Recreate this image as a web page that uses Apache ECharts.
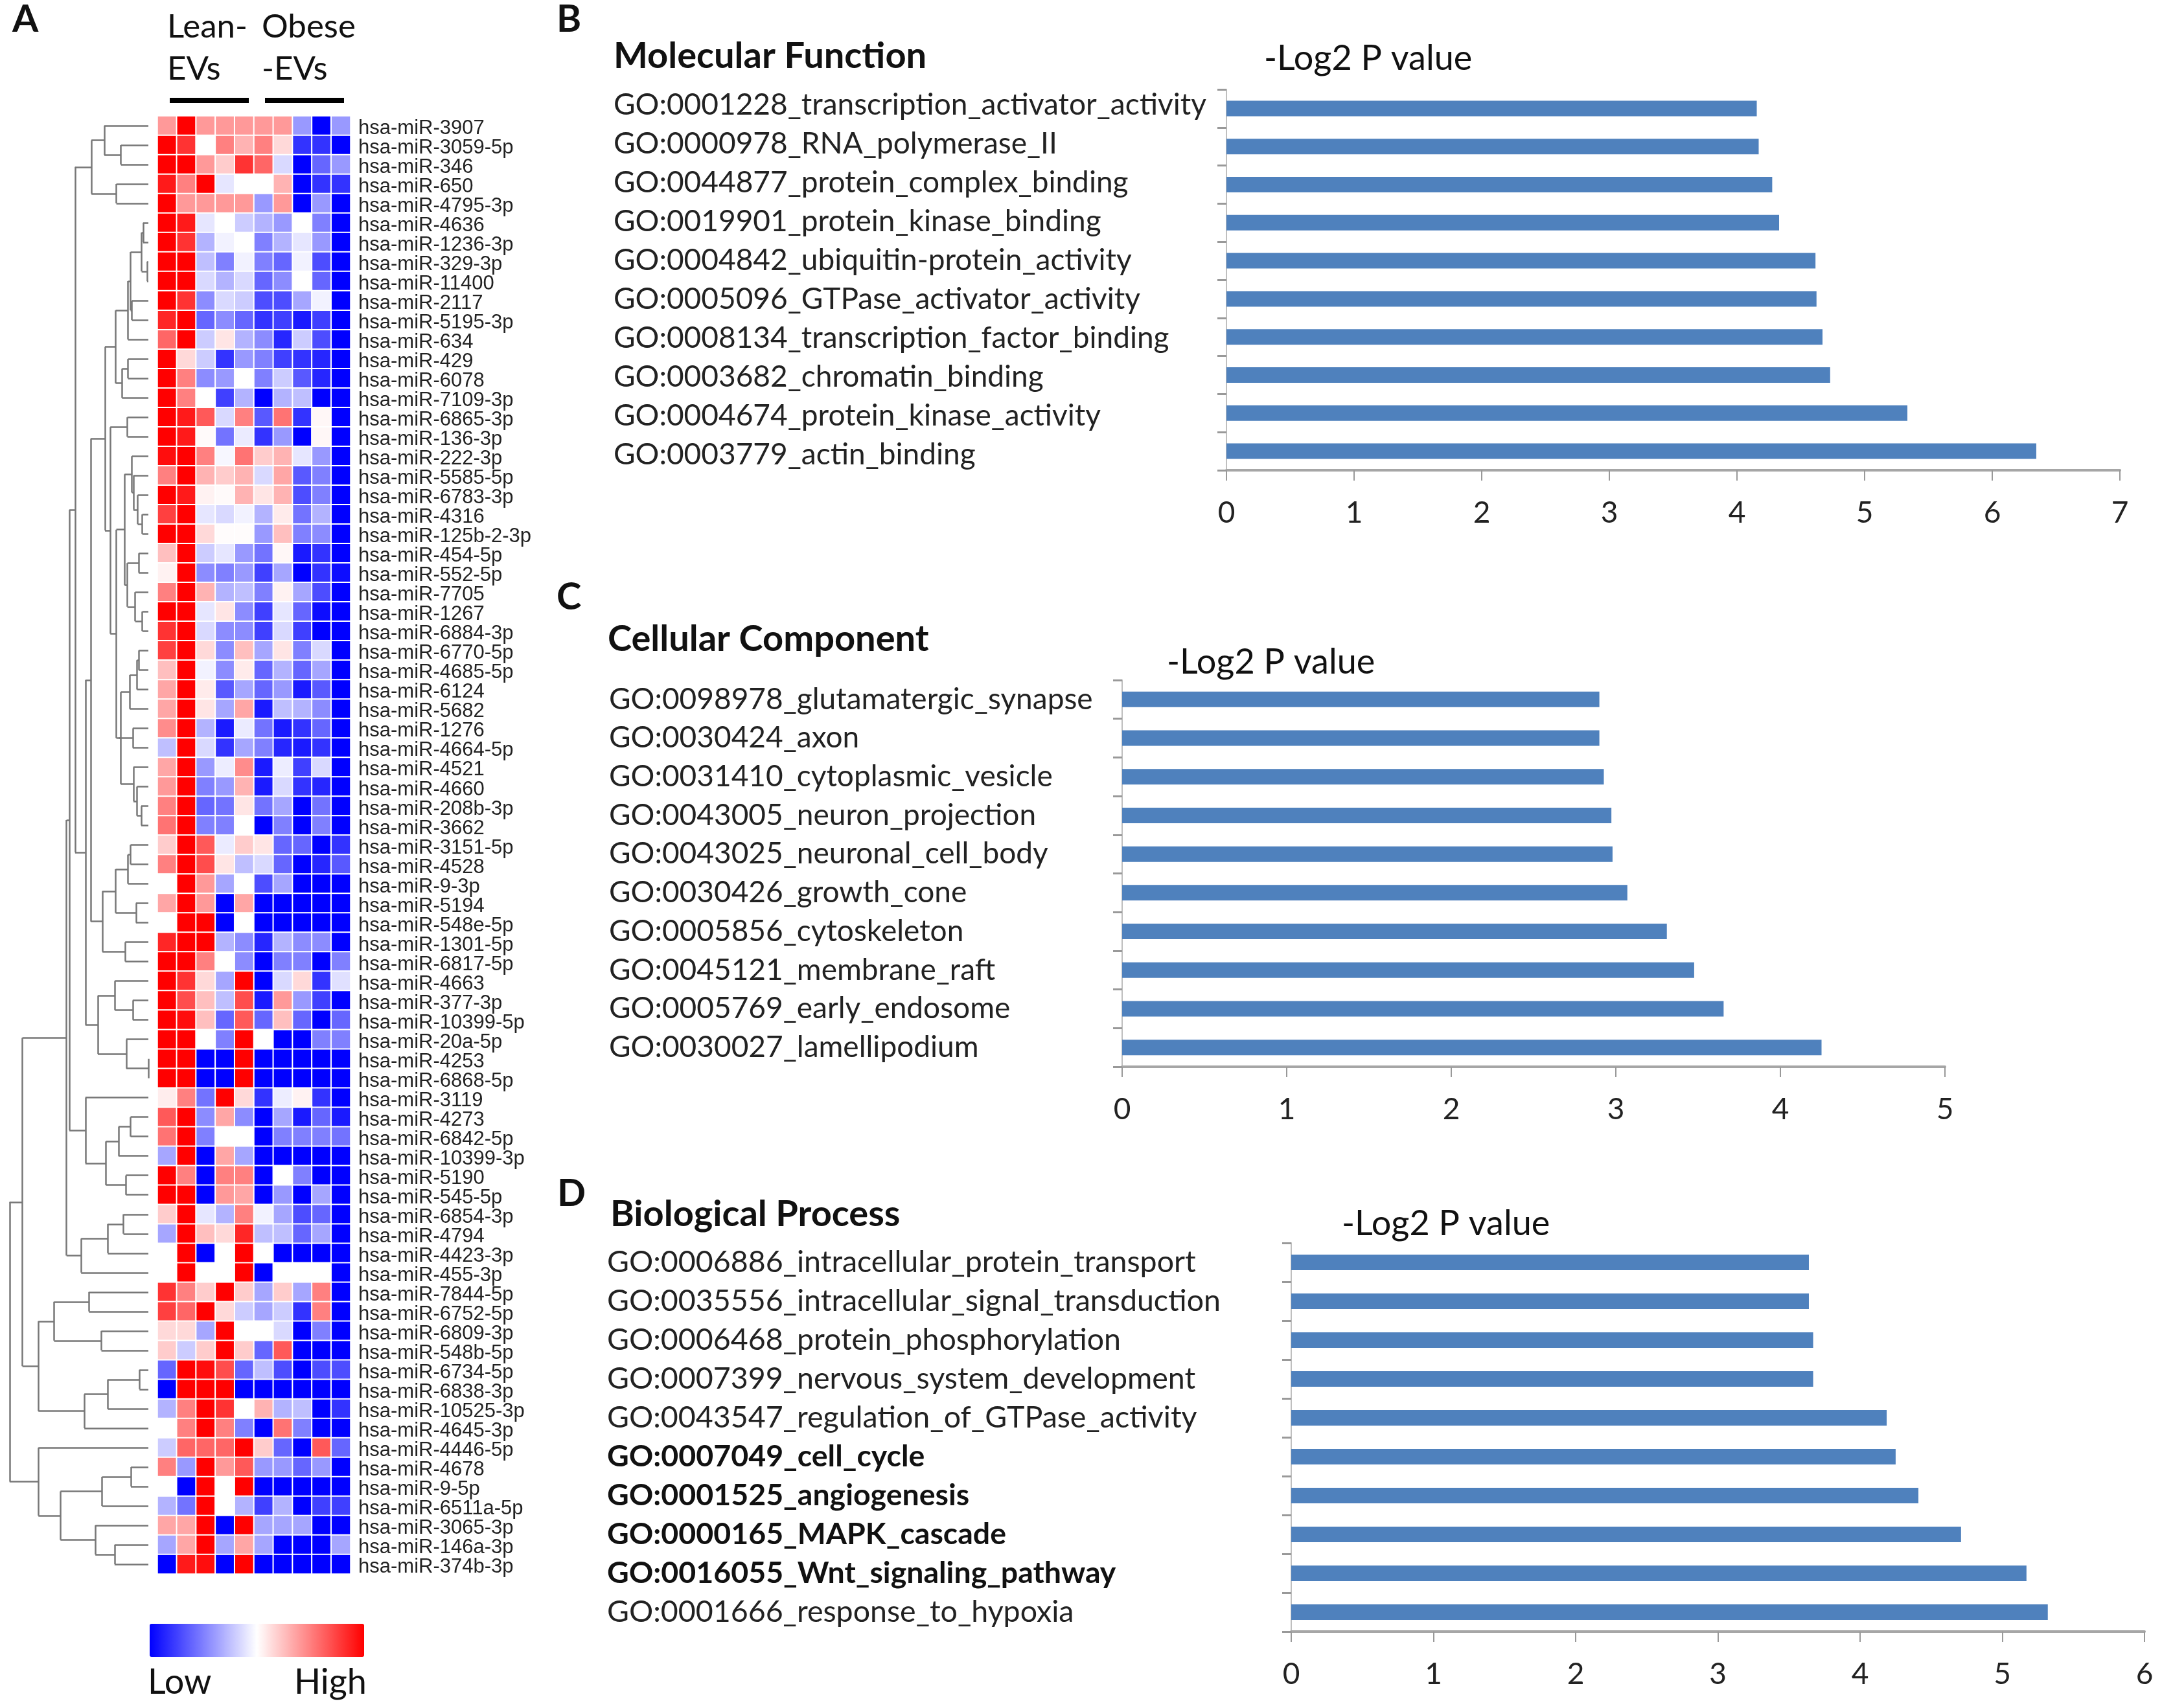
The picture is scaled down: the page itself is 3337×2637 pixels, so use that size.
<!DOCTYPE html>
<html>
<head>
<meta charset="utf-8">
<title>miRNA heatmap and GO enrichment</title>
<script src="https://cdn.jsdelivr.net/npm/echarts@6/dist/echarts.min.js"></script>
<style>
  html, body { margin: 0; padding: 0; background: #fff; }
  #chart { width: 3337px; height: 2637px; }
</style>
</head>
<body>
<div id="chart"></div>
<script>
const mirnaNames = [
  '3907','3059-5p','346','650','4795-3p','4636','1236-3p','329-3p','11400','2117','5195-3p','634','429','6078','7109-3p',
  '6865-3p','136-3p','222-3p','5585-5p','6783-3p','4316','125b-2-3p','454-5p','552-5p','7705','1267','6884-3p','6770-5p','4685-5p','6124',
  '5682','1276','4664-5p','4521','4660','208b-3p','3662','3151-5p','4528','9-3p','5194','548e-5p','1301-5p','6817-5p','4663',
  '377-3p','10399-5p','20a-5p','4253','6868-5p','3119','4273','6842-5p','10399-3p','5190','545-5p','6854-3p','4794','4423-3p','455-3p',
  '7844-5p','6752-5p','6809-3p','548b-5p','6734-5p','6838-3p','10525-3p','4645-3p','4446-5p','4678','9-5p','6511a-5p','3065-3p','146a-3p','374b-3p'
].map(n => 'hsa-miR-' + n);

// expression per miRNA, -10 (low) to 10 (high), ten samples
const expression = [
  [4,10,4,4,4,4,4,-4,-10,-4],
  [10,8,0,5,3,5,1.5,-8,-8,-10],
  [10,10,4,2,8,6,-1.5,-10,-6,-4],
  [9,5,10,-1,0,0,3,-10,-8,-8],
  [10,4,4,4,4,-4,4,-10,-4,-10],
  [10,9,-1,0,-2,-3,-4,0,-5,-10],
  [10,8,-3,-.5,0,-5,-3,-1,-4,-10],
  [10,10,-2.5,-5,-.5,-5,-6,-.5,-7,-10],
  [10,10,-1.5,-3,-1.5,-6,-4.5,0,-6,-10],
  [10,8,-4.5,-1.5,-2,-7,-7,-3.5,-.5,-10],
  [8.5,10,-6,-4.5,-6,-8,-7.5,-9,-7.5,-10],
  [6,10,-2,1,-3,-4.5,-8.5,-2,-7,-10],
  [10,1.5,-2,-8,-4,-5,-7.5,-8,-8.5,-10],
  [10,5,-4.5,-4,0,-5,-2,-6.5,-8.5,-10],
  [10,5,0,-7.5,-3,-10,-3,-2.5,-10,-10],
  [10,9,6.5,-1.5,5,-6.5,5.5,-8,.3,-10],
  [10,9,.2,-5.5,-.8,-8,-4,-10,.3,-10],
  [9.5,10,5,-.3,5.5,2,3,-1,-4,-10],
  [5,10,3,2,3,-1.5,3.5,-6.5,-5,-10],
  [10,9,.5,.2,3,1,3,-7,-5,-10],
  [7.5,10,-1,-1.5,-.5,-3,.8,-5.5,-3,-10],
  [10,10,1.5,.1,.1,-4,2.5,-5,-4.5,-10],
  [2.5,10,-2,-1,-4,-5.5,.3,-9,-8,-10],
  [.5,10,-4.5,-5,-4,-7.5,-3.5,-10,-8,-9.5],
  [5,10,3,-3,-2.5,-5,.5,-3.5,-7,-10],
  [10,10,-1,1,-4.5,-7.5,-1,-6,-9.5,-10],
  [8,10,-1.5,-4.5,-4.5,-7.5,-1.5,-7.5,-10,-10],
  [7.5,10,1.5,-4.5,2.5,-3.5,1,-5,-1.5,-10],
  [2.5,10,-.5,-4.5,.8,-6,-3,-6,-3.5,-10],
  [3.5,10,.8,-6.5,-3.5,-6,-4,-9,-6.5,-10],
  [3.5,10,1,-3.5,3.5,-9,-2.5,-3,-4.5,-10],
  [4.5,10,-3,-9,-.8,-5.5,-9,-8,-6,-10],
  [-2.5,10,-1.5,-8,-3.5,-5,-8.5,-9,-8,-10],
  [3.5,10,-4,-.7,4.5,-9,-.7,-7.5,-1.5,-10],
  [4,10,-5,-4,3,-9,-1.5,-8,-8.5,-10],
  [5,10,-6,-5.5,1,-5.5,-3.5,-10,-5.5,-10],
  [5.5,10,-5,-5,0,-10,-5,-10,-5,-10],
  [2,10,6.5,-.8,2,1,-6,-6,-10,-8],
  [5,10,7,1,-2.5,-1.5,-6,-10,-8.5,-6.5],
  [0,10,4,-3.5,0,-7,-3.5,-10,-10,-10],
  [3.5,10,4,-10,3.5,-10,-10,-10,-10,-10],
  [0,10,10,-10,0,-10,-10,-10,-10,-10],
  [8.5,10,10,-3,-4.5,-8.5,-3,-4.5,-4.5,-10],
  [10,10,5,0,-4.5,-10,-5,-5,-10,-5],
  [10,8,1.5,-3.5,10,-10,-1.5,1.5,-8,-1.2],
  [10,7,2.5,-2.5,7,-9,4,-4,-7.5,-10],
  [10,9.5,2.5,-6,6.5,-6,2.5,-6,-10,-6],
  [10,10,0,-5,10,0,-10,-10,-5,-5],
  [10,10,-10,-10,10,-10,-10,-10,-10,-10],
  [10,10,-10,-10,10,-10,-10,-10,-10,-10],
  [.7,5,-5.5,10,1.5,-8,-.7,.5,-8,-10],
  [6.5,10,-4.5,3.5,-4.5,-10,-3.5,-9,-6,-9],
  [5.5,10,-5,0,0,-10,-5,-5,-5,-5.5],
  [-3.5,10,-10,3.5,-3.5,-10,-10,-10,-10,-10],
  [10,5,-10,5,5,-10,0,-5,-10,-10],
  [10,10,-10,4,3.5,-10,-4,-10,-3.5,-10],
  [2,10,-1,-3,5,-.5,-3.5,-7,-6,-10],
  [-3.5,10,2.5,1.5,8.5,-2.5,-2.5,-6,-3.5,-10],
  [0,10,-10,0,10,0,-10,-10,-10,-10],
  [0,10,0,0,10,-10,0,0,0,-10],
  [8,5,2,10,2,-3.5,2,-3.5,5,-10],
  [7.5,6,10,1.5,-2,-3.5,-2,-8,5,-10],
  [1.5,1.5,-3.5,10,0,0,-1.5,-10,-5,-10],
  [2,-2,2,10,2,-6,6.5,-10,-10,-10],
  [-6,10,9.5,7,-6,-2.5,-7,-10,-7,-7],
  [-10,10,10,10,-10,-10,-10,-10,-10,-10],
  [-3,5,10,8,0,3,-3,-2.5,-10,-8],
  [0,5,10,5,-5,-10,5.5,-5,-10,-10],
  [-2,6,6,6,10,2,-6,-10,6.5,-6],
  [5,-4,10,4,6.5,-4,-4,-6,-4,-10],
  [0,-10,10,0,10,-10,-10,-10,-10,-10],
  [-3,-5.5,10,0,-3,-7.5,-3,-10,-7.5,-7.5],
  [3.5,3.5,10,-10,10,-3.5,-3.5,-3.5,-10,-10],
  [-3.5,3.5,10,-3.5,3.5,-3.5,-10,-10,-10,-3.5],
  [-10,9,9.5,-10,10,-10,-10,-10,-10,-10]
];

// dendrogram: [merge level, child, child], a plain number is a row (1-based)
const treeTopFive = [257, [293, 1, [340, 2, 3]], [327, 4, 5]];
const treeUpper = [325, [360, [367, [398, [402, 6, 7], [413, 8, 9]], [371, 10, 11]], 12], [343, [360, 13, 14], 15]];
const treeMiddle = [310, [358, 16, 17], [327,
  [350, [371, 18, [375, 19, [387, 20, [400, 21, 22]]]], [358, [390, 23, 24], [380, 25, [400, 26, 27]]]],
  [333, [373, 32, 33], [340, [365, [385, [390, 28, 29], 30], 31], [375, 34, [385, 35, [397, 36, 37]]]]]]];
const treeLower = [288, [325, [360, [367, 38, 39], 40], [382, 41, 42]], [352, 43, 44]];
const treeRed = [275, [323, 45, [373, 46, 47]], [355, 48, [417, 49, 50]]];
const treeSmall = [240, 51, [298, [333, [367, 52, 53], 54], [354, 55, 56]]];
const treeSparse = [228, [303, [347, 57, 58], 59], 60];
const treeSecond = [108, [152, [250, 61, 62], [285, 63, 64]], [237, [303, [392, 65, 66], 67], 68]];
const treeLast = [108, 69, [170, [287, [368, 70, 71], 72], [268, 73, [322, 74, 75]]]];
const treeRoot = [27,
  [63, [187, [195, [211, treeTopFive, [240, [255, [295, treeUpper, treeMiddle], treeLower], treeRed]], treeSmall], treeSparse], treeSecond],
  treeLast];

const mfTerms = ['GO:0001228_transcription_activator_activity','GO:0000978_RNA_polymerase_II','GO:0044877_protein_complex_binding','GO:0019901_protein_kinase_binding','GO:0004842_ubiquitin-protein_activity','GO:0005096_GTPase_activator_activity','GO:0008134_transcription_factor_binding','GO:0003682_chromatin_binding','GO:0004674_protein_kinase_activity','GO:0003779_actin_binding'];
const mfValues = [4.155, 4.17, 4.276, 4.33, 4.615, 4.623, 4.67, 4.73, 5.335, 6.345];
const ccTerms = ['GO:0098978_glutamatergic_synapse','GO:0030424_axon','GO:0031410_cytoplasmic_vesicle','GO:0043005_neuron_projection','GO:0043025_neuronal_cell_body','GO:0030426_growth_cone','GO:0005856_cytoskeleton','GO:0045121_membrane_raft','GO:0005769_early_endosome','GO:0030027_lamellipodium'];
const ccValues = [2.9, 2.9, 2.927, 2.973, 2.98, 3.07, 3.31, 3.476, 3.655, 4.25];
const bpTerms = ['GO:0006886_intracellular_protein_transport','GO:0035556_intracellular_signal_transduction','GO:0006468_protein_phosphorylation','GO:0007399_nervous_system_development','GO:0043547_regulation_of_GTPase_activity','GO:0007049_cell_cycle','GO:0001525_angiogenesis','GO:0000165_MAPK_cascade','GO:0016055_Wnt_signaling_pathway','GO:0001666_response_to_hypoxia'];
const bpValues = [3.64, 3.64, 3.67, 3.67, 4.187, 4.25, 4.41, 4.71, 5.17, 5.32];
const bpBold = ['GO:0007049_cell_cycle','GO:0001525_angiogenesis','GO:0000165_MAPK_cascade','GO:0016055_Wnt_signaling_pathway'];

const FONT = 'Lato, "Open Sans", sans-serif';
const LABEL_FONT = '"Liberation Sans", Arial, sans-serif';

const heatData = [];
expression.forEach((row, r) => row.forEach((v, c) => heatData.push([c, r, v])));

// walk the tree, collect its line segments, return the y of the node
const treeLines = [];
function walkTree(node) {
  if (typeof node === 'number') return { x: 417, y: node - 0.5 };
  const a = walkTree(node[1]);
  const b = walkTree(node[2]);
  const x = node[0];
  treeLines.push({ coords: [[x, a.y], [a.x, a.y]] });
  treeLines.push({ coords: [[x, b.y], [b.x, b.y]] });
  treeLines.push({ coords: [[x, a.y], [x, b.y]] });
  return { x, y: (a.y + b.y) / 2 };
}
walkTree(treeRoot);

// one bar panel; the term labels sit on their own axis since their pitch differs from the bars in B
const panels = [
  { terms: mfTerms, values: mfValues, max: 7, left: 1893, top: 138, width: 1379, height: 588, labelX: 947, labelTop: 132, labelHeight: 600, labelSize: 46 },
  { terms: ccTerms, values: ccValues, max: 5, left: 1732, top: 1050, width: 1270, height: 597, labelX: 940, labelTop: 1050, labelHeight: 597, labelSize: 46 },
  { terms: bpTerms, values: bpValues, max: 6, left: 1993, top: 1919, width: 1317, height: 600, labelX: 937, labelTop: 1919, labelHeight: 600, labelSize: 46.5 },
];

const grids = [
  { left: 243, top: 179, width: 298, height: 2251 },
  { left: 0, top: 179, width: 229, height: 2251 },
];
const xAxes = [
  { gridIndex: 0, type: 'category', data: expression[0].map((_, i) => 'S' + (i + 1)), show: false },
  { gridIndex: 1, type: 'value', min: 0, max: 417, show: false },
];
const yAxes = [
  {
    gridIndex: 0, type: 'category', data: mirnaNames, inverse: true, position: 'right',
    axisLine: { show: false }, axisTick: { show: false },
    axisLabel: {
      interval: 0, margin: 12, fontFamily: LABEL_FONT, fontSize: 31, color: '#222', padding: [9, 0, 0, 0],
      formatter: '{n|{value}}',
      rich: { n: { fontFamily: LABEL_FONT, fontSize: 31, color: '#222' } },
    },
  },
  { gridIndex: 1, type: 'value', min: 0, max: 75, inverse: true, show: false },
];
const series = [
  {
    type: 'heatmap', xAxisIndex: 0, yAxisIndex: 0, data: heatData,
    itemStyle: { borderColor: '#fff', borderWidth: 2 },
    emphasis: { disabled: true },
  },
  {
    type: 'lines', coordinateSystem: 'cartesian2d', xAxisIndex: 1, yAxisIndex: 1, data: treeLines,
    lineStyle: { color: '#777', width: 2.5, opacity: 1 }, symbol: 'none',
  },
];

panels.forEach(p => {
  const i = grids.length;
  grids.push({ left: p.left, top: p.top, width: p.width, height: p.height });
  xAxes.push({
    gridIndex: i, type: 'value', min: 0, max: p.max, interval: 1, splitLine: { show: false },
    axisLine: { show: true, lineStyle: { color: '#A6A6A6', width: 4 } },
    axisTick: { show: true, length: 16, lineStyle: { color: '#999', width: 2 } },
    axisLabel: { margin: 43, fontFamily: FONT, fontSize: 46, color: '#222' },
  });
  yAxes.push({
    gridIndex: i, type: 'category', inverse: true, data: p.terms,
    axisLine: { show: true, lineStyle: { color: '#BFBFBF', width: 2 } },
    axisTick: { show: true, length: 14, lineStyle: { color: '#999', width: 3 } },
    axisLabel: { show: false },
  });
  series.push({
    type: 'bar', xAxisIndex: i, yAxisIndex: i, data: p.values, barWidth: 24,
    itemStyle: { color: '#4F81BD' },
  });

  grids.push({ left: p.left, top: p.labelTop, width: p.width, height: p.labelHeight });
  xAxes.push({ gridIndex: i + 1, type: 'value', min: 0, max: p.max, show: false });
  yAxes.push({
    gridIndex: i + 1, type: 'category', inverse: true, data: p.terms,
    axisLine: { show: false }, axisTick: { show: false },
    axisLabel: {
      interval: 0, align: 'left', margin: p.left - p.labelX,
      fontFamily: FONT, fontSize: p.labelSize, color: '#222',
      formatter: t => bpBold.includes(t) ? `{b|${t}}` : t,
      rich: { b: { fontFamily: FONT, fontSize: p.labelSize, fontWeight: 'bold', color: '#111' } },
    },
  });
});

const text = (t, x, y, size, bold) => ({
  type: 'text', x, y,
  style: { text: t, fill: '#111', font: `${bold ? 'bold ' : ''}${size}px ${FONT}`, verticalAlign: 'middle' },
});
const bar = (x, w) => ({ type: 'rect', shape: { x, y: 151, width: w, height: 8 }, style: { fill: '#000' } });

const option = {
  backgroundColor: '#fff',
  animation: false,
  grid: grids,
  xAxis: xAxes,
  yAxis: yAxes,
  series,
  visualMap: {
    type: 'continuous', seriesIndex: 0, min: -10, max: 10, orient: 'horizontal',
    left: 231, top: 2507, itemWidth: 51, itemHeight: 331, padding: 0, calculable: false, realtime: false,
    text: null, showLabel: false, inRange: { color: ['#0000FF', '#FFFFFF', '#FF0000'] },
  },
  graphic: [
    text('A', 19, 30, 58, true),
    text('B', 859, 30, 58, true),
    text('C', 859, 922, 58, true),
    text('D', 860, 1843, 58, true),
    text('Lean-', 258, 42, 51),
    text('EVs', 258, 107, 51),
    text('Obese', 404, 42, 51),
    text('-EVs', 404, 107, 51),
    bar(262, 122),
    bar(409, 122),
    text('Low', 228, 2598, 54),
    text('High', 454, 2598, 54),
    text('Molecular Function', 947, 87, 56, true),
    text('-Log2 P value', 1951, 91, 54),
    text('Cellular Component', 938, 987, 56, true),
    text('-Log2 P value', 1801, 1023, 54),
    text('Biological Process', 942, 1875, 56, true),
    text('-Log2 P value', 2071, 1890, 54),
  ],
};

const chart = echarts.init(document.getElementById('chart'));
chart.setOption(option);
</script>
</body>
</html>
